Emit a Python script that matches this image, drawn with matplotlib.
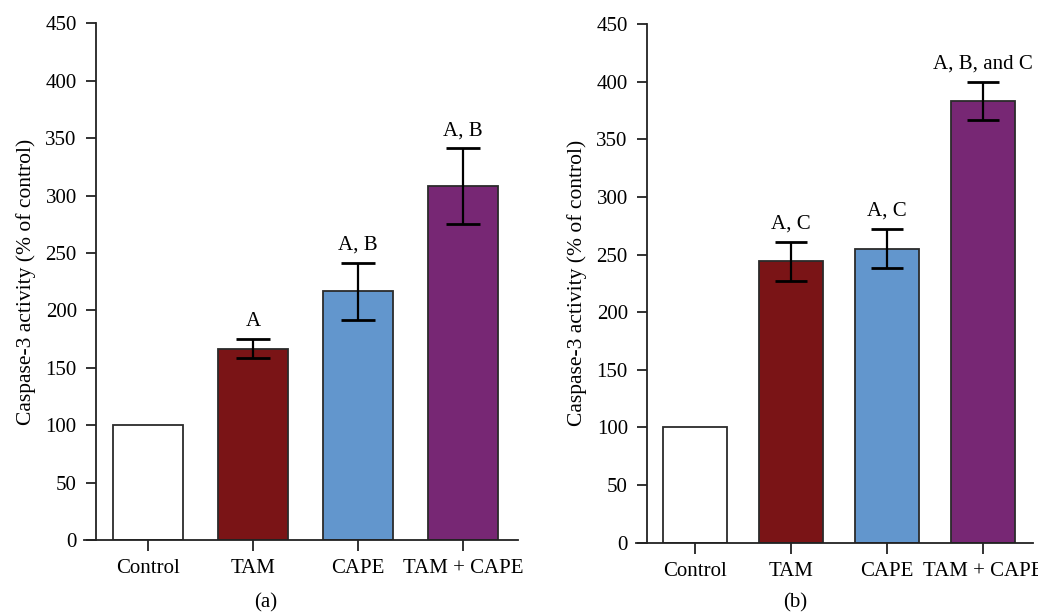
import numpy as np
import matplotlib.pyplot as plt

# Datos
grupos = ["Control", "TAM", "CAPE", "TAM + CAPE"]
colores = ["#ffffff", "#7a1416", "#6296cd", "#772774"]

valores_a = [100, 166.5, 216.5, 308]
errores_a = [0, 8.2, 25, 33]
letras_a = ["", "A", "A, B", "A, B"]

valores_b = [100, 244, 255, 383]
errores_b = [0, 16.6, 17, 16.5]
letras_b = ["", "A, C", "A, C", "A, B, and C"]

plt.rcParams['font.family'] = ['Liberation Serif', 'DejaVu Serif']
plt.rcParams['font.size'] = 15


def dibujar_panel(ax, valores, errores, letras, capsize):
    x = np.arange(len(grupos))
    ax.bar(x, valores, width=0.665, color=colores, edgecolor="#2b2b2b", linewidth=1.3, zorder=2)
    for xi, v, e in zip(x, valores, errores):
        if e > 0:
            ax.errorbar(xi, v, yerr=e, fmt="none", ecolor="black", elinewidth=1.6,
                        capsize=capsize, capthick=2, zorder=3)
    for xi, v, e, t in zip(x, valores, errores, letras):
        if t:
            ax.annotate(t, (xi, v + e), xytext=(0, 6), textcoords="offset points",
                        ha="center", va="bottom", fontsize=15, annotation_clip=False)
    ax.set_xlim(-0.61, 3.52)
    ax.set_ylim(0, 450)
    ax.set_yticks(np.arange(0, 451, 50))
    ax.set_xticks(x)
    ax.set_xticklabels(grupos)
    ax.spines["top"].set_visible(False)
    ax.spines["right"].set_visible(False)
    ax.spines["left"].set_position(("data", -0.5))
    ax.spines["left"].set_bounds(0, 450)
    for s in ("left", "bottom"):
        ax.spines[s].set_linewidth(1.3)
        ax.spines[s].set_color("#222222")
    ax.tick_params(axis="y", length=7.5, width=1.3, pad=6, colors="#222222", labelcolor="black")
    ax.tick_params(axis="x", length=8, width=1.3, pad=6, colors="#222222", labelcolor="black")
    ax.set_ylabel("Caspase-3 activity (% of control)", fontsize=15.5, labelpad=7)


fig = plt.figure(figsize=(10.38, 6.14), dpi=100)
ax_a = fig.add_axes([0.0809, 0.1205, 0.4178, 0.8415])
ax_b = fig.add_axes([0.6127, 0.1161, 0.3822, 0.8448])

dibujar_panel(ax_a, valores_a, errores_a, letras_a, capsize=12.4)
dibujar_panel(ax_b, valores_b, errores_b, letras_b, capsize=11.5)

fig.text(265.5 / 1038, 1 - 603 / 614, "(a)", ha="center", va="center", fontsize=15)
fig.text(795 / 1038, 1 - 603 / 614, "(b)", ha="center", va="center", fontsize=15)

fig.savefig("out.png", dpi=100)
